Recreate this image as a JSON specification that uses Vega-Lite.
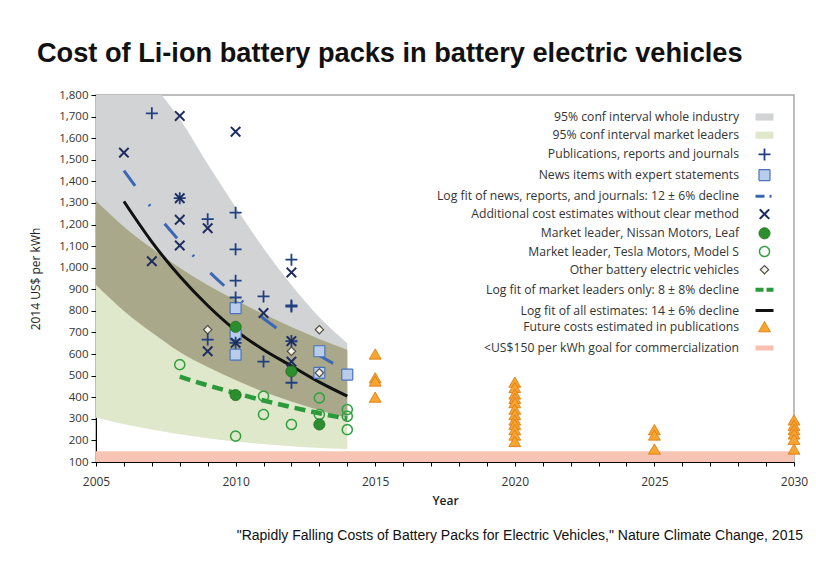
{
  "$schema": "https://vega.github.io/schema/vega-lite/v6.json",
  "background": "white",
  "padding": {"left": 28, "top": 40, "right": 8, "bottom": 8},
  "title": {"text": "Cost of Li-ion battery packs in battery electric vehicles", "anchor": "start", "font": "Liberation Sans", "fontSize": 27.2, "fontWeight": "bold", "color": "#111111", "offset": 20, "dx": 8},
  "config": {
    "view": {"stroke": "#a8a8a8", "strokeWidth": 1.5},
    "font": "Open Sans",
    "axis": {"grid": false, "domainColor": "#000000", "tickColor": "#000000", "labelColor": "#333333", "titleColor": "#222222", "labelFont": "Open Sans", "titleFont": "Open Sans", "titleFontWeight": "normal", "labelFontSize": 11.5, "titleFontSize": 12, "labelOverlap": false},
    "legend": {"orient": "none", "legendX": 657, "legendY": 13, "labelAlign": "right", "labelOffset": -37, "labelLimit": 600, "labelFont": "Open Sans", "labelFontSize": 12.2, "labelColor": "#333333", "rowPadding": 2.2, "padding": 0, "symbolOffset": 0}
  },
  "datasets": {
    "bands": [
      {"year": 2005, "gu": 2300, "lu": 1310, "gl": 920, "ll": 305},
      {"year": 2006, "gu": 2060, "lu": 1190, "gl": 800, "ll": 275},
      {"year": 2007, "gu": 1860, "lu": 1090, "gl": 700, "ll": 250},
      {"year": 2008, "gu": 1690, "lu": 1000, "gl": 610, "ll": 228},
      {"year": 2009, "gu": 1480, "lu": 920, "gl": 540, "ll": 210},
      {"year": 2010, "gu": 1280, "lu": 850, "gl": 480, "ll": 195},
      {"year": 2011, "gu": 1090, "lu": 785, "gl": 425, "ll": 183},
      {"year": 2012, "gu": 920, "lu": 725, "gl": 380, "ll": 173},
      {"year": 2013, "gu": 770, "lu": 670, "gl": 340, "ll": 165},
      {"year": 2014, "gu": 650, "lu": 620, "gl": 305, "ll": 160}
    ],
    "goal": [{"year": 2005, "yearEnd": 2030, "cost": 100, "costTop": 150}],
    "fits": [
      {"fit": "all", "year": 2006, "cost": 1307}, {"fit": "all", "year": 2007, "cost": 1120}, {"fit": "all", "year": 2008, "cost": 960},
      {"fit": "all", "year": 2009, "cost": 825}, {"fit": "all", "year": 2010, "cost": 710}, {"fit": "all", "year": 2011, "cost": 620},
      {"fit": "all", "year": 2012, "cost": 545}, {"fit": "all", "year": 2013, "cost": 470}, {"fit": "all", "year": 2014, "cost": 405},
      {"fit": "news", "year": 2006, "cost": 1450}, {"fit": "news", "year": 2007, "cost": 1276}, {"fit": "news", "year": 2008, "cost": 1123},
      {"fit": "news", "year": 2009, "cost": 988}, {"fit": "news", "year": 2010, "cost": 870}, {"fit": "news", "year": 2011, "cost": 765},
      {"fit": "news", "year": 2012, "cost": 673}, {"fit": "news", "year": 2013, "cost": 593}, {"fit": "news", "year": 2014, "cost": 522},
      {"fit": "lead", "year": 2008, "cost": 495}, {"fit": "lead", "year": 2009, "cost": 455}, {"fit": "lead", "year": 2010, "cost": 419},
      {"fit": "lead", "year": 2011, "cost": 385}, {"fit": "lead", "year": 2012, "cost": 354}, {"fit": "lead", "year": 2013, "cost": 326},
      {"fit": "lead", "year": 2014, "cost": 300}
    ],
    "pts": [
      {"year": 2010, "cost": 813, "series": "News items with expert statements"},
      {"year": 2010, "cost": 690, "series": "News items with expert statements"},
      {"year": 2010, "cost": 597, "series": "News items with expert statements"},
      {"year": 2013, "cost": 613, "series": "News items with expert statements"},
      {"year": 2013, "cost": 513, "series": "News items with expert statements"},
      {"year": 2014, "cost": 505, "series": "News items with expert statements"},
      {"year": 2009, "cost": 713, "series": "Other battery electric vehicles"},
      {"year": 2012, "cost": 613, "series": "Other battery electric vehicles"},
      {"year": 2013, "cost": 713, "series": "Other battery electric vehicles"},
      {"year": 2013, "cost": 513, "series": "Other battery electric vehicles"},
      {"year": 2008, "cost": 551, "series": "Market leader, Tesla Motors, Model S"},
      {"year": 2010, "cost": 220, "series": "Market leader, Tesla Motors, Model S"},
      {"year": 2011, "cost": 405, "series": "Market leader, Tesla Motors, Model S"},
      {"year": 2011, "cost": 320, "series": "Market leader, Tesla Motors, Model S"},
      {"year": 2012, "cost": 274, "series": "Market leader, Tesla Motors, Model S"},
      {"year": 2013, "cost": 397, "series": "Market leader, Tesla Motors, Model S"},
      {"year": 2013, "cost": 320, "series": "Market leader, Tesla Motors, Model S"},
      {"year": 2014, "cost": 343, "series": "Market leader, Tesla Motors, Model S"},
      {"year": 2014, "cost": 312, "series": "Market leader, Tesla Motors, Model S"},
      {"year": 2014, "cost": 250, "series": "Market leader, Tesla Motors, Model S"},
      {"year": 2010, "cost": 726, "series": "Market leader, Nissan Motors, Leaf"},
      {"year": 2010, "cost": 410, "series": "Market leader, Nissan Motors, Leaf"},
      {"year": 2012, "cost": 520, "series": "Market leader, Nissan Motors, Leaf"},
      {"year": 2013, "cost": 274, "series": "Market leader, Nissan Motors, Leaf"},
      {"year": 2015, "cost": 600, "series": "Future costs estimated in publications"},
      {"year": 2015, "cost": 490, "series": "Future costs estimated in publications"},
      {"year": 2015, "cost": 475, "series": "Future costs estimated in publications"},
      {"year": 2015, "cost": 400, "series": "Future costs estimated in publications"},
      {"year": 2020, "cost": 470, "series": "Future costs estimated in publications"},
      {"year": 2020, "cost": 445, "series": "Future costs estimated in publications"},
      {"year": 2020, "cost": 415, "series": "Future costs estimated in publications"},
      {"year": 2020, "cost": 395, "series": "Future costs estimated in publications"},
      {"year": 2020, "cost": 375, "series": "Future costs estimated in publications"},
      {"year": 2020, "cost": 345, "series": "Future costs estimated in publications"},
      {"year": 2020, "cost": 320, "series": "Future costs estimated in publications"},
      {"year": 2020, "cost": 295, "series": "Future costs estimated in publications"},
      {"year": 2020, "cost": 275, "series": "Future costs estimated in publications"},
      {"year": 2020, "cost": 250, "series": "Future costs estimated in publications"},
      {"year": 2020, "cost": 225, "series": "Future costs estimated in publications"},
      {"year": 2020, "cost": 195, "series": "Future costs estimated in publications"},
      {"year": 2025, "cost": 250, "series": "Future costs estimated in publications"},
      {"year": 2025, "cost": 225, "series": "Future costs estimated in publications"},
      {"year": 2025, "cost": 160, "series": "Future costs estimated in publications"},
      {"year": 2030, "cost": 295, "series": "Future costs estimated in publications"},
      {"year": 2030, "cost": 270, "series": "Future costs estimated in publications"},
      {"year": 2030, "cost": 250, "series": "Future costs estimated in publications"},
      {"year": 2030, "cost": 230, "series": "Future costs estimated in publications"},
      {"year": 2030, "cost": 205, "series": "Future costs estimated in publications"},
      {"year": 2030, "cost": 160, "series": "Future costs estimated in publications"},
      {"year": 2007, "cost": 1715, "series": "Publications, reports and journals"},
      {"year": 2008, "cost": 1322, "series": "Publications, reports and journals"},
      {"year": 2009, "cost": 1225, "series": "Publications, reports and journals"},
      {"year": 2009, "cost": 667, "series": "Publications, reports and journals"},
      {"year": 2010, "cost": 1255, "series": "Publications, reports and journals"},
      {"year": 2010, "cost": 1085, "series": "Publications, reports and journals"},
      {"year": 2010, "cost": 940, "series": "Publications, reports and journals"},
      {"year": 2010, "cost": 862, "series": "Publications, reports and journals"},
      {"year": 2010, "cost": 652, "series": "Publications, reports and journals"},
      {"year": 2011, "cost": 867, "series": "Publications, reports and journals"},
      {"year": 2011, "cost": 565, "series": "Publications, reports and journals"},
      {"year": 2012, "cost": 1037, "series": "Publications, reports and journals"},
      {"year": 2012, "cost": 820, "series": "Publications, reports and journals"},
      {"year": 2012, "cost": 825, "series": "Publications, reports and journals"},
      {"year": 2012, "cost": 660, "series": "Publications, reports and journals"},
      {"year": 2012, "cost": 467, "series": "Publications, reports and journals"},
      {"year": 2006, "cost": 1533, "series": "Additional cost estimates without clear method"},
      {"year": 2007, "cost": 1030, "series": "Additional cost estimates without clear method"},
      {"year": 2008, "cost": 1703, "series": "Additional cost estimates without clear method"},
      {"year": 2008, "cost": 1322, "series": "Additional cost estimates without clear method"},
      {"year": 2008, "cost": 1222, "series": "Additional cost estimates without clear method"},
      {"year": 2008, "cost": 1103, "series": "Additional cost estimates without clear method"},
      {"year": 2009, "cost": 1183, "series": "Additional cost estimates without clear method"},
      {"year": 2009, "cost": 613, "series": "Additional cost estimates without clear method"},
      {"year": 2010, "cost": 1630, "series": "Additional cost estimates without clear method"},
      {"year": 2010, "cost": 652, "series": "Additional cost estimates without clear method"},
      {"year": 2011, "cost": 790, "series": "Additional cost estimates without clear method"},
      {"year": 2012, "cost": 978, "series": "Additional cost estimates without clear method"},
      {"year": 2012, "cost": 660, "series": "Additional cost estimates without clear method"},
      {"year": 2012, "cost": 565, "series": "Additional cost estimates without clear method"}
    ]
  },
  "vconcat": [
    {
      "width": 698,
      "height": 367,
      "title": {"text": "\"Rapidly Falling Costs of Battery Packs for Electric Vehicles,\" Nature Climate Change, 2015", "orient": "bottom", "anchor": "end", "frame": "group", "font": "Liberation Sans", "fontSize": 14, "fontWeight": "normal", "color": "#111111", "offset": 23, "dx": 9},
      "layer": [
        {
          "data": {"name": "bands"},
          "mark": {"type": "area", "color": "#d2d3d5", "clip": true, "interpolate": "monotone"},
          "encoding": {
            "x": {"field": "year", "type": "quantitative", "title": "Year",
                  "scale": {"domain": [2005, 2030], "nice": false, "zero": false},
                  "axis": {"values": [2005,2006,2007,2008,2009,2010,2011,2012,2013,2014,2015,2016,2017,2018,2019,2020,2021,2022,2023,2024,2025,2026,2027,2028,2029,2030], "tickCount": 40, "labelExpr": "datum.value % 5 == 0 ? format(datum.value, 'd') : ''", "tickSize": 4, "labelPadding": 10, "labelFontSize": 12, "titlePadding": 8, "titleFontWeight": 600, "labelFlush": false, "labelOverlap": false}},
            "y": {"field": "gu", "type": "quantitative", "title": "2014 US$ per kWh",
                  "scale": {"domain": [100, 1800], "nice": false, "zero": false},
                  "axis": {"values": [100,200,300,400,500,600,700,800,900,1000,1100,1200,1300,1400,1500,1600,1700,1800], "tickCount": 40, "labelExpr": "format(datum.value, ',')", "tickSize": 5, "labelPadding": 3, "titlePadding": 16, "labelOverlap": false}},
            "y2": {"field": "gl"}
          }
        },
        {
          "data": {"name": "bands"},
          "mark": {"type": "area", "color": "#e0e8cb", "clip": true, "interpolate": "monotone"},
          "encoding": {
            "x": {"field": "year", "type": "quantitative"},
            "y": {"field": "lu", "type": "quantitative"},
            "y2": {"field": "ll"}
          }
        },
        {
          "data": {"name": "bands"},
          "mark": {"type": "area", "color": "#aaa88b", "clip": true, "interpolate": "monotone"},
          "encoding": {
            "x": {"field": "year", "type": "quantitative"},
            "y": {"field": "lu", "type": "quantitative"},
            "y2": {"field": "gl"}
          }
        },
        {
          "data": {"name": "goal"},
          "mark": {"type": "rect", "color": "#f8c4b4"},
          "encoding": {
            "x": {"field": "year", "type": "quantitative"},
            "x2": {"field": "yearEnd"},
            "y": {"field": "cost", "type": "quantitative"},
            "y2": {"field": "costTop"}
          }
        },
        {
          "data": {"name": "fits"},
          "transform": [{"filter": "datum.fit == 'all'"}],
          "mark": {"type": "line", "color": "#111111", "strokeWidth": 3, "interpolate": "monotone"},
          "encoding": {
            "x": {"field": "year", "type": "quantitative"},
            "y": {"field": "cost", "type": "quantitative"}
          }
        },
        {
          "data": {"name": "fits"},
          "transform": [{"filter": "datum.fit == 'news'"}],
          "mark": {"type": "line", "color": "#3b68b5", "strokeWidth": 3, "strokeDash": [19, 23, 2, 23], "interpolate": "monotone"},
          "encoding": {
            "x": {"field": "year", "type": "quantitative"},
            "y": {"field": "cost", "type": "quantitative"}
          }
        },
        {
          "data": {"name": "fits"},
          "transform": [{"filter": "datum.fit == 'lead'"}],
          "mark": {"type": "line", "color": "#2a9a3a", "strokeWidth": 4.5, "strokeDash": [11, 6], "interpolate": "monotone"},
          "encoding": {
            "x": {"field": "year", "type": "quantitative"},
            "y": {"field": "cost", "type": "quantitative"}
          }
        },
        {
          "data": {"name": "pts"},
          "mark": {"type": "point", "opacity": 1},
          "encoding": {
            "x": {"field": "year", "type": "quantitative"},
            "y": {"field": "cost", "type": "quantitative"},
            "shape": {"field": "series", "type": "nominal", "legend": {"title": null},
              "scale": {"type": "ordinal", "domain": ["95% conf interval whole industry", "95% conf interval market leaders", "Publications, reports and journals", "News items with expert statements", "Log fit of news, reports, and journals: 12 ± 6% decline", "Additional cost estimates without clear method", "Market leader, Nissan Motors, Leaf", "Market leader, Tesla Motors, Model S", "Other battery electric vehicles", "Log fit of market leaders only: 8 ± 8% decline", "Log fit of all estimates: 14 ± 6% decline", "Future costs estimated in publications", "<US$150 per kWh goal for commercialization"],
                "range": ["M-1,-0.4H1V0.4H-1Z", "M-1,-0.4H1V0.4H-1Z", "M-1,0H1M0,-1V1", "square", "stroke", "M-1,-1L1,1M-1,1L1,-1", "circle", "circle", "diamond", "stroke", "stroke", "triangle-up", "stroke"]}},
            "fill": {"field": "series", "type": "nominal", "legend": {"title": null},
              "scale": {"type": "ordinal", "domain": ["95% conf interval whole industry", "95% conf interval market leaders", "Publications, reports and journals", "News items with expert statements", "Log fit of news, reports, and journals: 12 ± 6% decline", "Additional cost estimates without clear method", "Market leader, Nissan Motors, Leaf", "Market leader, Tesla Motors, Model S", "Other battery electric vehicles", "Log fit of market leaders only: 8 ± 8% decline", "Log fit of all estimates: 14 ± 6% decline", "Future costs estimated in publications", "<US$150 per kWh goal for commercialization"],
                "range": ["#d2d3d5", "#e0e8cb", "transparent", "#b9cdeb", "transparent", "transparent", "#2b8f2e", "transparent", "#f4f2ea", "transparent", "transparent", "#f6a531", "transparent"]}},
            "stroke": {"field": "series", "type": "nominal", "legend": {"title": null},
              "scale": {"type": "ordinal", "domain": ["95% conf interval whole industry", "95% conf interval market leaders", "Publications, reports and journals", "News items with expert statements", "Log fit of news, reports, and journals: 12 ± 6% decline", "Additional cost estimates without clear method", "Market leader, Nissan Motors, Leaf", "Market leader, Tesla Motors, Model S", "Other battery electric vehicles", "Log fit of market leaders only: 8 ± 8% decline", "Log fit of all estimates: 14 ± 6% decline", "Future costs estimated in publications", "<US$150 per kWh goal for commercialization"],
                "range": ["transparent", "transparent", "#21407f", "#4b73b9", "#3b68b5", "#1c2c5c", "#1f6e22", "#2fa040", "#4f4f45", "#2a9a3a", "#111111", "#e07d14", "#f8c0b0"]}},
            "size": {"field": "series", "type": "nominal", "legend": {"title": null},
              "scale": {"type": "ordinal", "domain": ["95% conf interval whole industry", "95% conf interval market leaders", "Publications, reports and journals", "News items with expert statements", "Log fit of news, reports, and journals: 12 ± 6% decline", "Additional cost estimates without clear method", "Market leader, Nissan Motors, Leaf", "Market leader, Tesla Motors, Model S", "Other battery electric vehicles", "Log fit of market leaders only: 8 ± 8% decline", "Log fit of all estimates: 14 ± 6% decline", "Future costs estimated in publications", "<US$150 per kWh goal for commercialization"],
                "range": [324, 324, 144, 121, 324, 90, 121, 100, 70, 324, 324, 140, 324]}},
            "strokeWidth": {"field": "series", "type": "nominal", "legend": {"title": null},
              "scale": {"type": "ordinal", "domain": ["95% conf interval whole industry", "95% conf interval market leaders", "Publications, reports and journals", "News items with expert statements", "Log fit of news, reports, and journals: 12 ± 6% decline", "Additional cost estimates without clear method", "Market leader, Nissan Motors, Leaf", "Market leader, Tesla Motors, Model S", "Other battery electric vehicles", "Log fit of market leaders only: 8 ± 8% decline", "Log fit of all estimates: 14 ± 6% decline", "Future costs estimated in publications", "<US$150 per kWh goal for commercialization"],
                "range": [0, 0, 1.8, 1.2, 3, 2, 1, 1.5, 1.2, 4, 3, 1, 5]}},
            "strokeDash": {"field": "series", "type": "nominal", "legend": {"title": null},
              "scale": {"type": "ordinal", "domain": ["95% conf interval whole industry", "95% conf interval market leaders", "Publications, reports and journals", "News items with expert statements", "Log fit of news, reports, and journals: 12 ± 6% decline", "Additional cost estimates without clear method", "Market leader, Nissan Motors, Leaf", "Market leader, Tesla Motors, Model S", "Other battery electric vehicles", "Log fit of market leaders only: 8 ± 8% decline", "Log fit of all estimates: 14 ± 6% decline", "Future costs estimated in publications", "<US$150 per kWh goal for commercialization"],
                "range": [[1, 0], [1, 0], [1, 0], [1, 0], [9, 5, 2, 5], [1, 0], [1, 0], [1, 0], [1, 0], [8, 3], [1, 0], [1, 0], [1, 0]]}}
          }
        }
      ]
    }
  ]
}
